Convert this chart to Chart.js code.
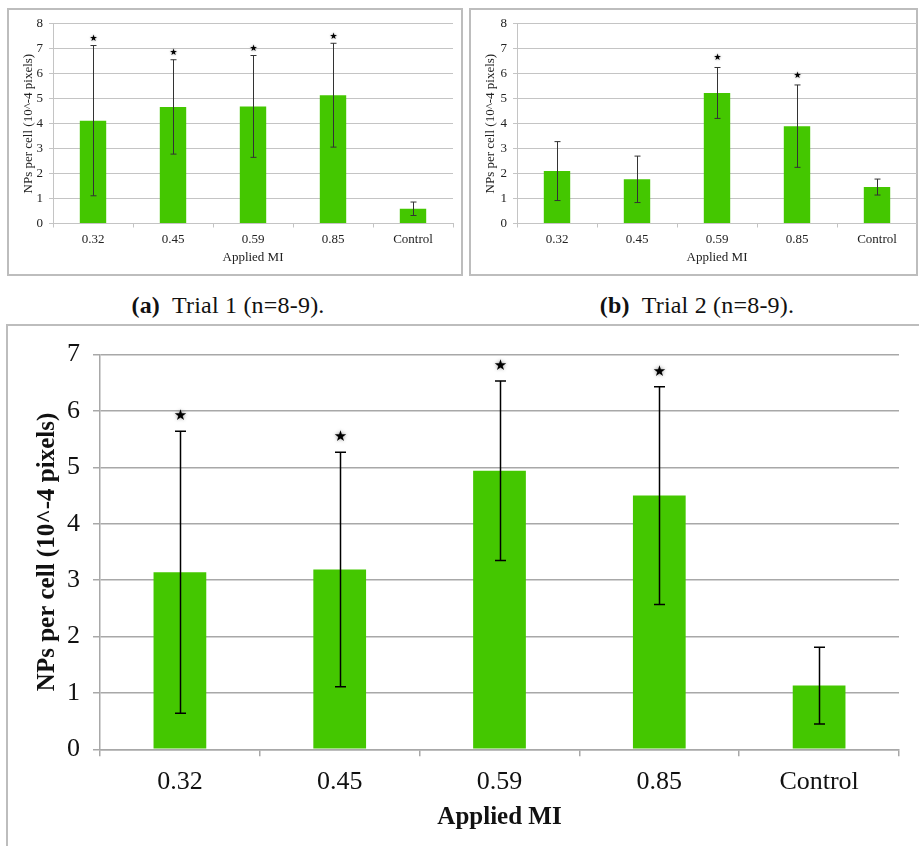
<!DOCTYPE html>
<html>
<head>
<meta charset="utf-8">
<script src="https://cdn.jsdelivr.net/npm/chart.js@4.4.1/dist/chart.umd.min.js"></script>
<style>
  html, body { margin: 0; padding: 0; background: #fff; }
  body { width: 919px; height: 846px; position: relative; overflow: hidden; }
  .panel { position: absolute; border: 2px solid #bdbdbd; box-sizing: border-box; }
  canvas { position: absolute; }
  .caption {
    position: absolute; font-family: 'Liberation Serif', serif; font-size: 24px; color: #111;
    transform: translate(-50%, -50%); white-space: nowrap; letter-spacing: 0.2px;
  }
</style>
</head>
<body>
<div class="panel" style="left:7px;top:8px;width:456px;height:268px"></div>
<div class="panel" style="left:469px;top:8px;width:449px;height:268px"></div>
<div class="panel" style="left:6px;top:324px;width:940px;height:540px"></div>

<canvas id="trial1" width="452" height="262" style="left:9px;top:10px"></canvas>
<canvas id="trial2" width="446" height="262" style="left:471px;top:10px"></canvas>
<canvas id="combined" width="911" height="520" style="left:8px;top:326px"></canvas>

<div class="caption" style="left:228px;top:305px"><b>(a)</b>&nbsp; Trial 1 (n=8-9).</div>
<div class="caption" style="left:697px;top:305px"><b>(b)</b>&nbsp; Trial 2 (n=8-9).</div>

<script>
const categories = ['0.32', '0.45', '0.59', '0.85', 'Control'];

// Trial 1
const trial1Means = [4.12, 4.67, 4.69, 5.14, 0.59];
const trial1Errors = [3.01, 1.89, 2.04, 2.08, 0.27];
const trial1Stars = [true, true, true, true, false];

// Trial 2
const trial2Means = [2.10, 1.77, 5.23, 3.90, 1.46];
const trial2Errors = [1.18, 0.93, 1.02, 1.65, 0.32];
const trial2Stars = [false, false, true, true, false];

// Both trials together
const combinedMeans = [3.14, 3.19, 4.94, 4.50, 1.13];
const combinedErrors = [2.50, 2.08, 1.59, 1.93, 0.68];
const combinedStars = [true, true, true, true, false];

const yTitle = 'NPs per cell (10^-4 pixels)';
const xTitle = 'Applied MI';
const barColor = '#44c700';
const serif = "'Liberation Serif', 'Times New Roman', serif";

// error bars + significance stars, drawn from the y scale
const errorBarPlugin = {
    id: 'errorBars',
    afterDatasetsDraw(chart, args, opts) {
        const ctx = chart.ctx;
        const y = chart.scales.y;
        const ds = chart.data.datasets[0];
        const meta = chart.getDatasetMeta(0);
        ctx.save();
        meta.data.forEach((bar, i) => {
            const m = ds.data[i];
            const e = opts.errors[i];
            const top = y.getPixelForValue(m + e);
            const bot = y.getPixelForValue(m - e);
            const x = Math.round(bar.x) + 0.5;
            ctx.strokeStyle = opts.color;
            ctx.lineWidth = opts.width;
            ctx.beginPath();
            ctx.moveTo(x, top); ctx.lineTo(x, bot);
            ctx.moveTo(x - opts.cap, top); ctx.lineTo(x + opts.cap, top);
            ctx.moveTo(x - opts.cap, bot); ctx.lineTo(x + opts.cap, bot);
            ctx.stroke();

            if (opts.stars[i]) {
                ctx.save();
                ctx.fillStyle = '#000';
                ctx.shadowColor = 'rgba(0,0,0,0.45)';
                ctx.shadowBlur = opts.starSize / 4;
                ctx.font = opts.starSize + "px 'DejaVu Sans'";
                ctx.textAlign = 'center';
                ctx.textBaseline = 'middle';
                ctx.fillText('\u2605', x, top - opts.starGap);
                ctx.restore();
            }
        });
        ctx.restore();
    }
};

function buildChart(id, means, errors, stars, s) {
    const ctx = document.getElementById(id).getContext('2d');
    return new Chart(ctx, {
        type: 'bar',
        data: {
            labels: categories,
            datasets: [{
                data: means,
                backgroundColor: barColor,
                borderWidth: 0,
                barPercentage: 0.33,
                categoryPercentage: 1
            }]
        },
        plugins: [errorBarPlugin],
        options: {
            responsive: false,
            animation: false,
            devicePixelRatio: 1,
            layout: { padding: { left: 0, right: s.padRight, top: s.padTop, bottom: 0 } },
            plugins: {
                legend: { display: false },
                tooltip: { enabled: false },
                errorBars: {
                    errors: errors, stars: stars, color: s.errColor, width: s.errWidth,
                    cap: s.cap, starSize: s.starSize, starGap: s.starGap
                }
            },
            scales: {
                x: {
                    grid: {
                        drawOnChartArea: false, offset: true, color: s.gridColor,
                        lineWidth: s.gridWidth, tickLength: s.tickLen
                    },
                    border: { color: s.gridColor, width: s.gridWidth },
                    ticks: { color: s.textColor, padding: s.xTickPad, font: { family: serif, size: s.tickSize } },
                    title: {
                        display: true, text: xTitle, color: s.textColor,
                        padding: { top: 0, bottom: s.xTitlePad },
                        font: { family: serif, size: s.xTitleSize, weight: s.titleWeight }
                    },
                    afterFit(scale) { scale.height = s.xHeight; }
                },
                y: {
                    min: 0, max: s.yMax,
                    grid: { color: s.gridColor, lineWidth: s.gridWidth, tickLength: s.tickLen },
                    border: { color: s.gridColor, width: s.gridWidth },
                    ticks: { stepSize: 1, color: s.textColor, padding: s.yTickPad, font: { family: serif, size: s.tickSize } },
                    title: {
                        display: true, text: yTitle, color: s.textColor,
                        padding: { top: s.yTitlePad, bottom: 0 },
                        font: { family: serif, size: s.yTitleSize, weight: s.titleWeight }
                    },
                    afterFit(scale) { scale.width = s.yWidth; }
                }
            }
        }
    });
}

const smallStyle = {
    yMax: 8, padRight: 8, padTop: 10.5, xHeight: 48.5, yWidth: 44,
    tickSize: 13, xTitleSize: 13, yTitleSize: 13, titleWeight: 'normal',
    tickLen: 4, xTickPad: 4, yTickPad: 6, xTitlePad: 7, yTitlePad: 12,
    gridColor: '#c4c4c4', gridWidth: 1, textColor: '#222',
    errColor: '#333', errWidth: 1, cap: 3, starSize: 9, starGap: 7
};

buildChart('trial1', trial1Means, trial1Errors, trial1Stars, smallStyle);
buildChart('trial2', trial2Means, trial2Errors, trial2Stars,
    Object.assign({}, smallStyle, { padRight: 0, yWidth: 46, starGap: 9.5 }));

buildChart('combined', combinedMeans, combinedErrors, combinedStars, {
    yMax: 7, padRight: 20, padTop: 20.7, xHeight: 96.7, yWidth: 92,
    tickSize: 26, xTitleSize: 25, yTitleSize: 25, titleWeight: 'bold',
    tickLen: 7, xTickPad: 10, yTickPad: 13, xTitlePad: 13, yTitlePad: 25,
    gridColor: '#a8a8a8', gridWidth: 1.5, textColor: '#111',
    errColor: '#000', errWidth: 1.5, cap: 5.5, starSize: 15, starGap: 15
});
</script>
</body>
</html>
